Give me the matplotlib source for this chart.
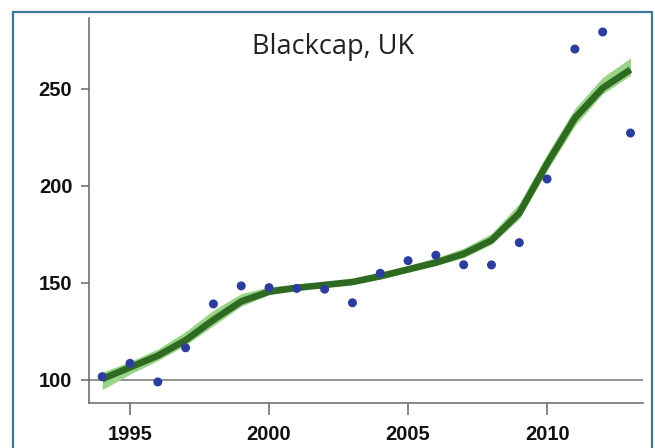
import numpy as np
import matplotlib
matplotlib.use("Agg")
import matplotlib.pyplot as plt
from matplotlib.patches import Rectangle

# Blackcap index, UK (1994 = 100)
years = np.arange(1994, 2014)
counts = [101.7, 108.6, 99, 116.6, 139.2, 148.5, 147.6, 147.2, 146.8, 139.8,
          155, 161.5, 164.3, 159.4, 159.3, 170.8, 203.6, 270.6, 279.4, 227.3]
trend = [100.5, 106.5, 112.5, 120.5, 131, 140.5, 145.5, 147.5, 149, 150.5,
         153.5, 157, 160.5, 165, 172, 186, 211.5, 235, 250.5, 260]
band_lower = [95, 103, 110, 118, 128, 138, 144, 146.5, 148, 149.5,
              152, 155.5, 159, 163, 170, 183, 208, 231, 247.5, 257]
band_upper = [104, 109.5, 116, 125, 136, 144.5, 148, 149.5, 150.5, 152,
              155.5, 159, 163, 168, 175.5, 191, 216.5, 240, 256, 266]
xticks = [1995, 2000, 2005, 2010]
yticks = [100, 150, 200, 250]

W, H = 655, 448
fig = plt.figure(figsize=(W / 100, H / 100), dpi=100)
ax = fig.add_axes([89 / W, 45 / H, (643 - 89) / W, (430 - 45) / H])

# frame around the panel (open at the bottom)
fig.add_artist(Rectangle((13 / W, -0.1), (652 - 13) / W, 1.1 - 12.5 / H,
                         transform=fig.transFigure, fill=False,
                         edgecolor="#3a7799", linewidth=1.6))

ax.axhline(100, color="#808080", linewidth=1.2, zorder=1)
ax.fill_between(years, band_lower, band_upper, color="#9ad488",
                linewidth=0, zorder=2)
ax.plot(years, trend, color="#2f6a22", linewidth=4.8,
        solid_capstyle="butt", solid_joinstyle="round", zorder=3)
ax.scatter(years, counts, s=42, color="#2d3d9e", edgecolors="none", zorder=4)

ax.set_xlim(1993.525, 2013.45)
ax.set_ylim(88.13, 286.6)
ax.set_xticks(xticks)
ax.set_yticks(yticks)

for side in ["top", "right"]:
    ax.spines[side].set_visible(False)
for side in ["left", "bottom"]:
    ax.spines[side].set_color("#666666")
    ax.spines[side].set_linewidth(1.1)

ax.tick_params(axis="y", length=6, width=1.1, color="#666666", pad=6)
ax.tick_params(axis="x", length=8.5, width=1.1, color="#666666", pad=7)
for lab in ax.get_xticklabels() + ax.get_yticklabels():
    lab.set_fontfamily("Liberation Sans")
    lab.set_fontweight("bold")
    lab.set_fontsize(14.5)
    lab.set_color("#111111")

fig.text(333 / W, 1 - 47 / H, "Blackcap, UK", ha="center", va="center",
         fontsize=19.5, family="Open Sans", color="#222222")

fig.savefig("out.png", dpi=100)
